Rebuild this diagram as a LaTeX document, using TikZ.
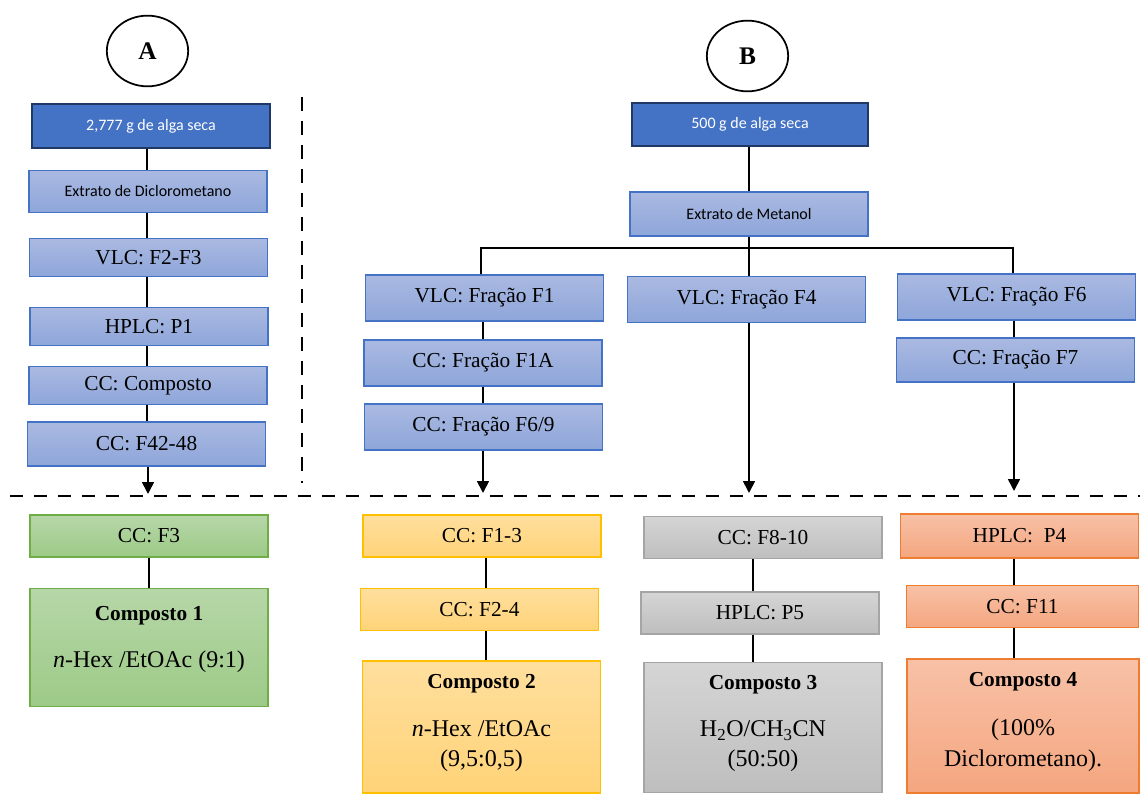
\documentclass[tikz,border=0pt]{standalone}
\usepackage{fontspec}
\setmainfont{Liberation Serif}
\newfontfamily\tnr{Liberation Serif}
\newfontfamily\calibri{Carlito}
\usetikzlibrary{arrows.meta,calc,shapes.geometric}
\definecolor{dkblue}{HTML}{4472C4}
\definecolor{navy}{HTML}{1F3864}
\definecolor{ltbluetop}{HTML}{AAB9E1}
\definecolor{ltbluebot}{HTML}{8EA6DA}
\definecolor{grtop}{HTML}{B6D7A8}
\definecolor{grbot}{HTML}{9DCA87}
\definecolor{grline}{HTML}{70AD47}
\definecolor{yetop}{HTML}{FFDF9E}
\definecolor{yebot}{HTML}{FFD378}
\definecolor{yeline}{HTML}{FFC000}
\definecolor{gytop}{HTML}{D5D5D5}
\definecolor{gybot}{HTML}{BEBEBE}
\definecolor{gyline}{HTML}{A5A5A5}
\definecolor{ortop}{HTML}{F8C1A7}
\definecolor{orbot}{HTML}{F4A67F}
\definecolor{orline}{HTML}{ED7D31}
\tikzset{
  base/.style={inner sep=0pt, minimum width=178.5pt, align=center, font=\tnr\fontsize{16}{19}\selectfont},
  topbox/.style={base, draw=navy, line width=1.8pt, fill=dkblue, text=white, font=\calibri\fontsize{12}{14}\selectfont},
  bluebox/.style={base, draw=dkblue, line width=0.9pt, top color=ltbluetop, bottom color=ltbluebot},
  extbox/.style={bluebox, font=\calibri\fontsize{12}{14}\selectfont},
  greenbox/.style={base, draw=grline, line width=0.9pt, top color=grtop, bottom color=grbot},
  yellowbox/.style={base, draw=yeline, line width=0.9pt, top color=yetop, bottom color=yebot},
  graybox/.style={base, draw=gyline, line width=0.9pt, top color=gytop, bottom color=gybot},
  orangebox/.style={base, draw=orline, line width=0.9pt, top color=ortop, bottom color=orbot},
  circlab/.style={draw, line width=1.3pt, ellipse, minimum width=61pt, minimum height=53pt, inner sep=0pt, font=\tnr\bfseries\fontsize{19}{22}\selectfont},
  head/.style={anchor=base, inner sep=0pt, font=\tnr\bfseries\fontsize{16}{19}\selectfont},
  bodytext/.style={anchor=base, inner sep=0pt, font=\tnr\fontsize{18}{22}\selectfont},
  link/.style={line width=1.1pt},
  arr/.style={line width=1.3pt, -{Triangle[width=9pt,length=9pt]}},
  sep/.style={line width=2.2pt, dash pattern=on 10pt off 8pt}
}
\begin{document}
\begin{tikzpicture}[x=0.75pt,y=-0.75pt]
\useasboundingbox (0,0) rectangle (1140,795);

% separators
\coordinate (h1) at (10,496);
\coordinate (h2) at (1140,496);
\coordinate (v1) at (302,97);
\coordinate (v2) at (302,483);
\draw[sep] (h1) -- (h2);
\draw[sep, dash pattern=on 10.5pt off 7.5pt] (v1) -- (v2);

% ---------- A ----------
\coordinate (xA) at (147,0);
\node[circlab] (A) at (147.5,51) {A};
\node[topbox, minimum height=33pt] (a0) at (151,126) {2,777 g de alga seca};
\node[extbox, minimum height=32pt] (a1) at (148,191.5) {Extrato de Diclorometano};
\node[bluebox, minimum height=29pt] (a2) at (148.5,257.5) {VLC: F2-F3};
\node[bluebox, minimum height=29pt] (a3) at (149,326.5) {HPLC: P1};
\node[bluebox, minimum height=29pt] (a4) at (148,385.5) {CC: Composto};
\node[bluebox, minimum height=33pt] (a5) at (146.5,444) {CC: F42-48};
\coordinate (ea) at (148,494);
\draw[link] (a0.south -| xA) -- (a1.north -| xA);
\draw[link] (a1.south -| xA) -- (a2.north -| xA);
\draw[link] (a2.south -| xA) -- (a3.north -| xA);
\draw[link] (a3.south -| xA) -- (a4.north -| xA);
\draw[link] (a4.south -| xA) -- (a5.north -| xA);
\draw[arr] (a5.south -| ea) -- (ea);

% ---------- B ----------
\node[circlab] (B) at (747.5,56) {B};
\node[topbox, minimum width=177pt, minimum height=32pt] (b0) at (750,124.5) {500 g de alga seca};
\node[extbox, minimum height=33pt] (b1) at (749,214) {Extrato de Metanol};
\node[bluebox, minimum height=34.5pt] (b2) at (484.5,298) {VLC: Fração F1};
\node[bluebox, minimum height=34pt] (b3) at (746.5,299.5) {VLC: Fração F4};
\node[bluebox, minimum height=34.5pt] (b4) at (1016.5,297) {VLC: Fração F6};
\node[bluebox, minimum height=34.5pt] (b5) at (483,363) {CC: Fração F1A};
\node[bluebox, minimum height=34.5pt] (b6) at (483.5,427) {CC: Fração F6/9};
\node[bluebox, minimum height=33pt] (b7) at (1015.5,360) {CC: Fração F7};
\coordinate (sp) at (749,248);
\coordinate (xL) at (481,0);
\coordinate (xR) at (1013,0);
\coordinate (e1) at (483,493);
\coordinate (e2) at (749,493);
\coordinate (e3) at (1014,491);
\draw[link] (b0.south -| sp) -- (b1.north -| sp);
\draw[link] (b1.south -| sp) -- (b3.north -| sp);
\draw[link] (b2.north -| xL) |- (sp) -| (b4.north -| xR);
\draw[link] (b2.south -| e1) -- (b5.north -| e1);
\draw[link] (b5.south -| e1) -- (b6.north -| e1);
\draw[link] (b4.south -| e3) -- (b7.north -| e3);
\draw[arr] (b6.south -| e1) -- (e1);
\draw[arr] (b3.south -| e2) -- (e2);
\draw[arr] (b7.south -| e3) -- (e3);

% ---------- bottom row ----------
\node[greenbox, minimum height=31.5pt] (g1) at (149,536) {CC: F3};
\node[greenbox, minimum height=89pt] (g2) at (149,647.5) {};
\node[head] (g2h) at ($(g2.north)+(0,33)$) {Composto 1};
\node[bodytext] (g2a) at ($(g2.north)+(0,80)$) {\textit{n}-Hex /EtOAc (9:1)};
\draw[link] (g1.south) -- (g2.north);

\coordinate (xY) at (486,0);
\node[yellowbox, minimum height=31.5pt] (y1) at (482,536) {CC: F1-3};
\node[yellowbox, minimum height=32pt] (y2) at (479.5,609.5) {CC: F2-4};
\node[yellowbox, minimum height=99pt] (y3) at (481.5,727) {};
\node[head] (y3h) at ($(y3.north)+(0,28)$) {Composto 2};
\node[bodytext] (y3a) at ($(y3.north)+(0,76)$) {\textit{n}-Hex /EtOAc};
\node[bodytext] (y3b) at ($(y3.north)+(0,106)$) {(9,5:0,5)};
\draw[link] (y1.south -| xY) -- (y2.north -| xY);
\draw[link] (y2.south -| xY) -- (y3.north -| xY);

\coordinate (xG) at (753,0);
\node[graybox, minimum height=32pt] (r1) at (763,537.5) {CC: F8-10};
\node[graybox, minimum height=31.5pt] (r2) at (760,613) {HPLC: P5};
\node[graybox, minimum height=98pt] (r3) at (763,727.5) {};
\node[head] (r3h) at ($(r3.north)+(0,28)$) {Composto 3};
\node[bodytext] (r3a) at ($(r3.north)+(0,75)$) {H\textsubscript{2}O/CH\textsubscript{3}CN};
\node[bodytext] (r3b) at ($(r3.north)+(0,105)$) {(50:50)};
\draw[link] (r1.south -| xG) -- (r2.north -| xG);
\draw[link] (r2.south -| xG) -- (r3.north -| xG);

\coordinate (xO) at (1014,0);
\node[orangebox, minimum height=33pt] (o1) at (1019.5,536) {HPLC:\ \ P4};
\node[orangebox, minimum width=174.5pt, minimum height=32pt] (o2) at (1022.5,606.5) {CC: F11};
\node[orangebox, minimum width=174pt, minimum height=100.5pt] (o3) at (1023,726) {};
\node[head] (o3h) at ($(o3.north)+(0,28)$) {Composto 4};
\node[bodytext] (o3a) at ($(o3.north)+(0,77)$) {(100\%};
\node[bodytext] (o3b) at ($(o3.north)+(0,108)$) {Diclorometano).};
\draw[link] (o1.south -| xO) -- (o2.north -| xO);
\draw[link] (o2.south -| xO) -- (o3.north -| xO);
\end{tikzpicture}
\end{document}
